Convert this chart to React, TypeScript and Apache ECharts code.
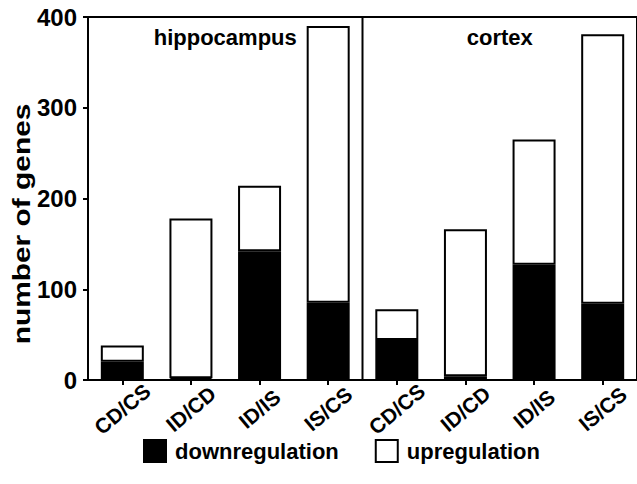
import React, { useEffect, useRef } from "react";
import * as echarts from "echarts";

const regions = ["hippocampus", "cortex"];
const comparisons = ["CD/CS", "ID/CD", "ID/IS", "IS/CS"];
const categories = [...comparisons, ...comparisons];
const downregulation = [20, 2, 142, 85, 44, 4, 127, 84];
const upregulation = [18, 176, 72, 305, 34, 162, 138, 297];
const yTicks = { min: 0, max: 400, interval: 100 };
const yTitle = "number of genes";

const FONT = "'Liberation Sans', Arial, Helvetica, sans-serif";

export default function App() {
  const ref = useRef<HTMLDivElement>(null);
  useEffect(() => {
    document.body.style.margin = "0";
    const chart = echarts.init(ref.current!, null, { renderer: "svg" });
    chart.setOption({
      animation: false,
      backgroundColor: "#fff",
      textStyle: { fontFamily: FONT },
      grid: {
        left: 88,
        top: 17,
        width: 550,
        height: 363,
        show: true,
        borderColor: "#000",
        borderWidth: 2,
        backgroundColor: "transparent",
      },
      legend: {
        data: ["downregulation", "upregulation"],
        left: 138,
        top: 434,
        padding: 5,
        itemWidth: 22,
        itemHeight: 22,
        itemGap: 36,
        icon: "rect",
        textStyle: {
          fontFamily: FONT,
          fontSize: 22,
          fontWeight: "bold",
          color: "#000",
          padding: [0, 0, 0, 4],
        },
      },
      xAxis: {
        type: "category",
        data: categories,
        axisLine: { show: true, lineStyle: { color: "#000", width: 2 } },
        axisTick: { show: true, alignWithLabel: true, length: 5, lineStyle: { color: "#000", width: 2 } },
        axisLabel: {
          interval: 0,
          rotate: 40,
          align: "center",
          verticalAlign: "middle",
          margin: 29,
          fontFamily: FONT,
          fontSize: 21,
          fontWeight: "bold",
          color: "#000",
        },
      },
      yAxis: {
        type: "value",
        min: yTicks.min,
        max: yTicks.max,
        interval: yTicks.interval,
        splitLine: { show: false },
        axisLine: { show: true, lineStyle: { color: "#000", width: 2 } },
        axisTick: { show: true, length: 5, lineStyle: { color: "#000", width: 2 } },
        axisLabel: {
          margin: 11,
          fontFamily: FONT,
          fontSize: 24,
          fontWeight: "bold",
          color: "#000",
        },
      },
      series: [
        {
          name: "downregulation",
          type: "bar",
          stack: "total",
          barWidth: 43,
          data: downregulation,
          itemStyle: { color: "#000", borderColor: "#000", borderWidth: 2 },
        },
        {
          name: "upregulation",
          type: "bar",
          stack: "total",
          barWidth: 43,
          data: upregulation,
          itemStyle: { color: "#fff", borderColor: "#000", borderWidth: 2 },
        },
      ],
    });

    const px = (i: number) => chart.convertToPixel({ xAxisIndex: 0 }, i) as number;
    const yTop = chart.convertToPixel({ yAxisIndex: 0 }, yTicks.max) as number;
    const yBottom = chart.convertToPixel({ yAxisIndex: 0 }, yTicks.min) as number;
    const n = comparisons.length;
    const divX = (px(n - 1) + px(n)) / 2;
    const centers = regions.map((_, r) => (px(r * n + 1) + px(r * n + 2)) / 2);

    chart.setOption({
      graphic: [
        {
          type: "line",
          shape: { x1: divX, y1: yTop, x2: divX, y2: yBottom },
          style: { stroke: "#000", lineWidth: 2 },
          z: 10,
        },
        ...regions.map((name, r) => ({
          type: "text",
          x: centers[r],
          y: 37,
          style: {
            text: name,
            font: `bold 22px ${FONT}`,
            fill: "#000",
            textAlign: "center",
            textVerticalAlign: "middle",
          },
          z: 10,
        })),
        {
          type: "text",
          x: 22,
          y: 224,
          rotation: Math.PI / 2,
          scaleX: 1.3,
          style: {
            text: yTitle,
            font: `bold 23px ${FONT}`,
            fill: "#000",
            textAlign: "center",
            textVerticalAlign: "middle",
          },
        },
      ],
    });

    return () => chart.dispose();
  }, []);
  return <div ref={ref} style={{ width: 637, height: 484 }} />;
}
